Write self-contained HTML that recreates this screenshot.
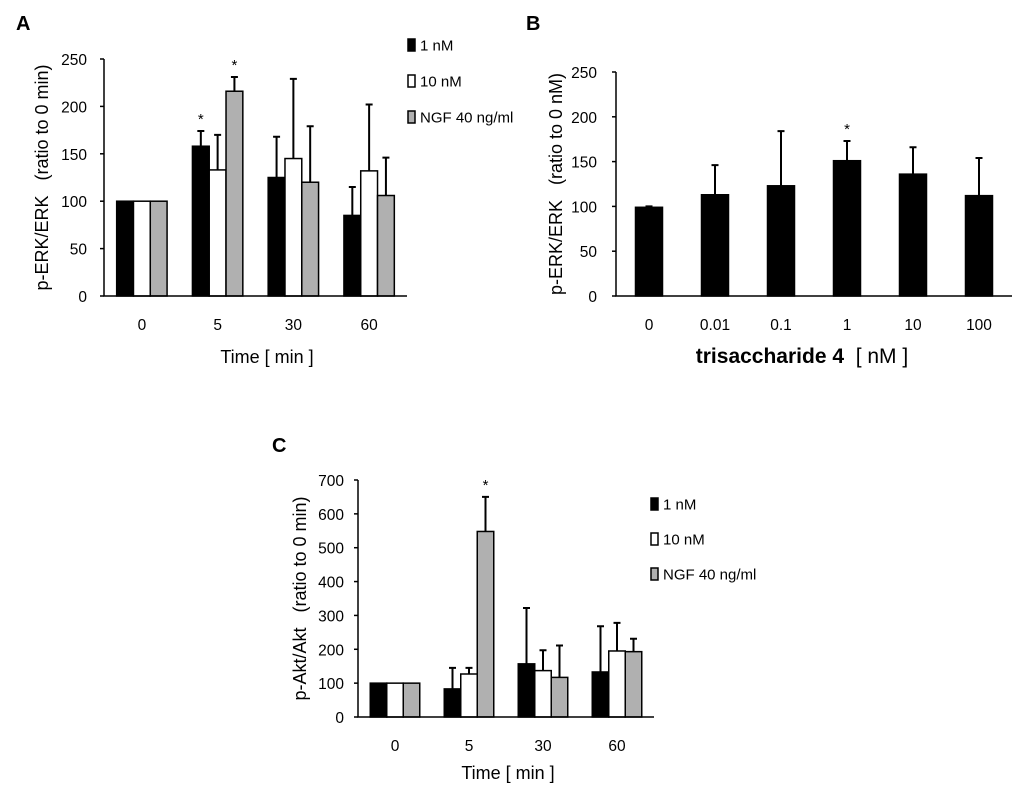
<!DOCTYPE html>
<html><head><meta charset="utf-8"><style>
html,body{margin:0;padding:0;background:#fff;}
svg{display:block;font-family:"Liberation Sans",Arial,sans-serif;}
text{white-space:pre;}
</style></head><body>
<svg id="fig" width="1024" height="794" viewBox="0 0 1024 794" xmlns="http://www.w3.org/2000/svg">
<text x="16" y="30" font-size="20" font-weight="bold">A</text>
<text x="526" y="30" font-size="20" font-weight="bold">B</text>
<text x="272" y="452" font-size="20" font-weight="bold">C</text>
</svg>
<script>
// Panel A data
const catsA = ["0","5","30","60"];
const a1nM = [100,158,125,85];
const a10nM = [100,133,145,132];
const aNGF = [100,216,120,106];
const a1nMErr = [0,16,43,30];
const a10nMErr = [0,37,84,70];
const aNGFErr = [0,15,59,40];
const ticksA = [0,50,100,150,200,250];
// Panel B data
const catsB = ["0","0.01","0.1","1","10","100"];
const bVals = [99,113,123,151,136,112];
const bErr = [1,33,61,22,30,42];
const ticksB = [0,50,100,150,200,250];
// Panel C data
const catsC = ["0","5","30","60"];
const c1nM = [100,83,157,133];
const c10nM = [100,127,137,195];
const cNGF = [100,548,117,193];
const c1nMErr = [0,62,165,135];
const c10nMErr = [0,18,60,83];
const cNGFErr = [0,102,94,38];
const ticksC = [0,100,200,300,400,500,600,700];

const svg = document.getElementById('fig');
const NS = 'http://www.w3.org/2000/svg';
function mk(tag, attrs, parent){
  const e = document.createElementNS(NS, tag);
  for (const k in attrs) e.setAttribute(k, attrs[k]);
  (parent||svg).appendChild(e);
  return e;
}
const fills = ['#000','#fff','#b0b0b0'];
const seriesNames = ['1-nm','10-nm','ngf'];

function panel(cfg){
  const g = mk('g',{});
  
  
  const y = v => cfg.y0 - v/cfg.ymax*(cfg.y0-cfg.ytop);
  const cw = (cfg.x1-cfg.x0)/cfg.cats.length;
  const cx = i => cfg.x0 + cw*(i+0.5);
  const ns = cfg.series.length;
  cfg.series.forEach((s, si) => {
    s.forEach((v, i) => {
      const bx = cx(i) - cfg.bw*ns/2 + cfg.bw*si;
      const r = mk('rect',{x:bx,y:y(v),width:cfg.bw,height:cfg.y0-y(v),fill:fills[si],stroke:'#000','stroke-width':1.5},g);
      
      
      const e = cfg.errs[si][i];
      if (e > 0) {
        const mx = bx + cfg.bw/2;
        const l = mk('path',{d:`M${mx},${y(v)}V${y(v+e)}M${mx-3.5},${y(v+e)}H${mx+3.5}`,stroke:'#000','stroke-width':2,fill:'none'},g);
        
        
      }
    });
  });
  (cfg.stars||[]).forEach(st => {
    const [si,i] = st;
    const bx = cx(i) - cfg.bw*ns/2 + cfg.bw*si + cfg.bw/2;
    const v = cfg.series[si][i] + cfg.errs[si][i];
    const t = mk('text',{x:bx,y:y(v)-7,'font-size':15,'text-anchor':'middle'},g);
    t.textContent = '*';
    
    
  });
  const ax = mk('path',{d:`M${cfg.x0},${cfg.ytop}V${cfg.y0}H${cfg.x1}`,stroke:'#000','stroke-width':1.5,fill:'none'},g);
  
  
  cfg.ticks.forEach(tv => {
    mk('path',{d:`M${cfg.x0-4},${y(tv)}H${cfg.x0}`,stroke:'#000','stroke-width':1.5},g);
    const t = mk('text',{x:cfg.tickRight,y:y(tv)+6,'font-size':15.5,'text-anchor':'end'},g);
    t.textContent = tv;
    
    
  });
  cfg.cats.forEach((c,i) => {
    const t = mk('text',{x:cx(i),y:cfg.y0+34,'font-size':15.5,'text-anchor':'middle'},g);
    t.textContent = c;
    
    
  });
  const yl = mk('text',{x:0,y:0,'font-size':18,'text-anchor':'middle',transform:`translate(${cfg.ylx},${(cfg.ytop+cfg.y0)/2}) rotate(-90)`},g);
  yl.textContent = cfg.ylabel;
  
  
  const xl = mk('text',{x:cfg.xlx,y:cfg.xly,'font-size':cfg.xlsize||18,'text-anchor':'middle'},g);
  xl.innerHTML = cfg.xlabel;
  
  
  if (cfg.legend) {
    const labels = ['1 nM','10 nM','NGF 40 ng/ml'];
    labels.forEach((lb,k) => {
      const ly = cfg.legend[1] + k*cfg.legend[2];
      const r = mk('rect',{x:cfg.legend[0],y:ly-6,width:7,height:12,fill:fills[k],stroke:'#000','stroke-width':1.5},g);
      
      
      const t = mk('text',{x:cfg.legend[0]+12,y:ly+5.5,'font-size':15},g);
      t.textContent = lb;
      
      
    });
  }
}

panel({name:'panel-a-chart',cats:catsA,series:[a1nM,a10nM,aNGF],errs:[a1nMErr,a10nMErr,aNGFErr],
  ticks:ticksA,ymax:250,x0:104,x1:407,y0:296,ytop:59,bw:16.8,tickRight:87,
  stars:[[0,1],[2,1]],ylabel:'p-ERK/ERK   (ratio to 0 min)',ylx:48,
  xlabel:'Time [ min ]',xlx:267,xly:363,legend:[408,45,36]});
panel({name:'panel-b-chart',cats:catsB,series:[bVals],errs:[bErr],
  ticks:ticksB,ymax:250,x0:616,x1:1012,y0:296,ytop:72,bw:27,tickRight:597,
  stars:[[0,3]],ylabel:'p-ERK/ERK   (ratio to 0 nM)',ylx:562,
  xlabel:'<tspan font-weight="bold">trisaccharide 4</tspan>  [ nM ]',xlx:802,xly:363,xlsize:21});
panel({name:'panel-c-chart',cats:catsC,series:[c1nM,c10nM,cNGF],errs:[c1nMErr,c10nMErr,cNGFErr],
  ticks:ticksC,ymax:700,x0:358,x1:654,y0:717,ytop:480,bw:16.5,tickRight:344,
  stars:[[2,1]],ylabel:'p-Akt/Akt   (ratio to 0 min)',ylx:306,
  xlabel:'Time [ min ]',xlx:508,xly:779,legend:[651,504,35]});
</script>
</body></html>
